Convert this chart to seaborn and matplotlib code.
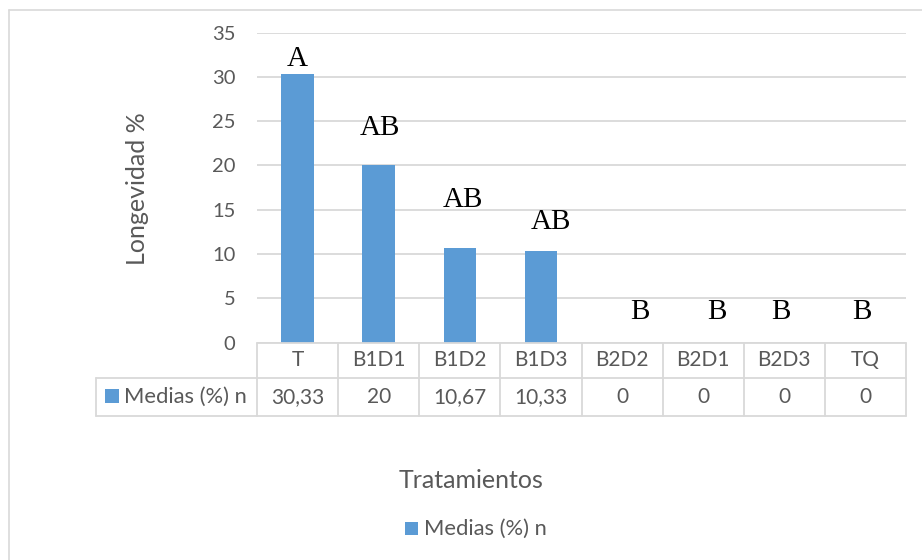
import matplotlib
matplotlib.use("Agg")
import matplotlib.pyplot as plt
import matplotlib.transforms as mtransforms
from matplotlib.lines import Line2D
from matplotlib.patches import Rectangle
import pandas as pd
import seaborn as sns

# ---- data ----
categories = ["T", "B1D1", "B1D2", "B1D3", "B2D2", "B2D1", "B2D3", "TQ"]
medias = [30.33, 20, 10.67, 10.33, 0, 0, 0, 0]
letters = ["A", "AB", "AB", "AB", "B", "B", "B", "B"]
series_name = "Medias (%) n"
y_ticks = [0, 5, 10, 15, 20, 25, 30, 35]
x_title = "Tratamientos"
y_title = "Longevidad %"

# hand-placed significance letters: x shift (category units), baseline (y units)
letter_dx = [0.0, 0.02, 0.04, 0.12, 0.22, 0.17, -0.04, -0.04]
letter_base = [31.26, 23.4, 15.3, 12.8, 2.65, 2.65, 2.65, 2.65]

# ---- style ----
BLUE = "#5B9BD5"
TXT = "#595959"
GRID = "#D9D9D9"
W, H = 922, 560

sns.set_style("white")
plt.rcParams["font.family"] = ["Lato", "DejaVu Sans"]

fig = plt.figure(figsize=(W / 100, H / 100), dpi=100)
fig.patch.set_facecolor("white")


def fx(px):
    return px / W


def fy(py):
    return 1 - py / H


ax_left, ax_right, ax_top, ax_bottom = 257, 906, 32.5, 342.5
ax = fig.add_axes([fx(ax_left), fy(ax_bottom), fx(ax_right - ax_left), (ax_bottom - ax_top) / H])

df = pd.DataFrame({"cat": categories, "val": medias})
sns.barplot(data=df, x="cat", y="val", color=BLUE, saturation=1, width=0.4,
            linewidth=0, ax=ax)

ax.set_xlim(-0.5, len(categories) - 0.5)
ax.set_ylim(0, 35)
ax.set_yticks(y_ticks)
ax.set_yticklabels([str(t) for t in y_ticks])
ax.yaxis.grid(True, color=GRID, linewidth=1.3)
ax.set_axisbelow(True)
for s in ax.spines.values():
    s.set_visible(False)
ax.set_xticks([])
ax.set_xlabel("")
ax.set_ylabel("")
ax.tick_params(axis="y", length=0, pad=15.5, labelsize=14.5, labelcolor=TXT)

# significance letters
for i, (lab, dx, yb) in enumerate(zip(letters, letter_dx, letter_base)):
    ax.text(i + dx, yb, lab, ha="center", va="baseline", fontsize=21,
            family=["Liberation Serif", "DejaVu Serif"], color="black")

# ---- data table under the axis ----
ax_h = ax_bottom - ax_top
row1 = 0.0
row2 = -(377.5 - ax_bottom) / ax_h
row3 = -(416 - ax_bottom) / ax_h
xt = ax.get_xaxis_transform()
ft = mtransforms.blended_transform_factory(fig.transFigure, ax.transAxes)
n = len(categories)
lw = 1.3

ax.add_line(Line2D([-0.5, n - 0.5], [row1, row1], transform=xt, color=GRID, lw=lw, clip_on=False))
for yy in (row2, row3):
    ax.add_line(Line2D([fx(96), fx(ax_right)], [yy, yy], transform=ft, color=GRID, lw=lw, clip_on=False))
for i in range(n + 1):
    ax.add_line(Line2D([i - 0.5, i - 0.5], [row1, row3], transform=xt, color=GRID, lw=lw, clip_on=False))
ax.add_line(Line2D([fx(96), fx(96)], [row2, row3], transform=ft, color=GRID, lw=lw, clip_on=False))

for i, (c, v) in enumerate(zip(categories, medias)):
    ax.text(i, (row1 + row2) / 2, c, transform=xt, ha="center", va="center",
            fontsize=15, color=TXT)
    val = f"{v:g}".replace(".", ",")
    ax.text(i, (row2 + row3) / 2, val, transform=xt, ha="center", va="center",
            fontsize=15, color=TXT)

# series key inside the table
fig.add_artist(Rectangle((fx(105), fy(403)), fx(14), 14 / H, transform=fig.transFigure,
                         facecolor=BLUE, edgecolor="none"))
fig.text(fx(124), fy(396.5), series_name, ha="left", va="center", fontsize=15.8, color=TXT)

# axis titles
fig.text(fx(471), fy(481), x_title, ha="center", va="center", fontsize=18, color=TXT)
fig.text(fx(137.5), fy(189), y_title, ha="center", va="center", rotation=90,
         fontsize=18, color=TXT)

# legend at the bottom
fig.add_artist(Rectangle((fx(405), fy(535)), fx(13), 13 / H, transform=fig.transFigure,
                         facecolor=BLUE, edgecolor="none"))
fig.text(fx(424), fy(529), series_name, ha="left", va="center", fontsize=15.8, color=TXT)

# chart frame
fig.add_artist(Line2D([fx(9), 1], [fy(10), fy(10)], transform=fig.transFigure, color=GRID, lw=1.2))
fig.add_artist(Line2D([fx(9), fx(9)], [fy(10), 0], transform=fig.transFigure, color=GRID, lw=1.2))

fig.savefig("out.png", dpi=100, facecolor="white")
